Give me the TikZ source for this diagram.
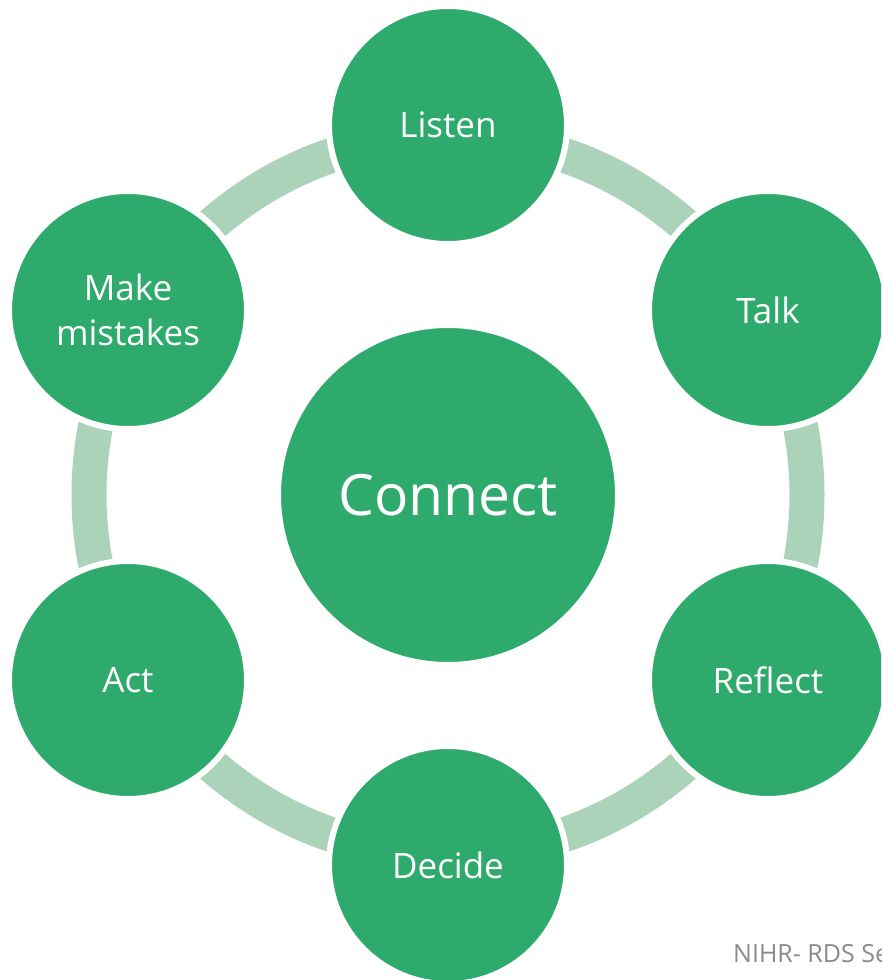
\documentclass[tikz,border=0pt]{standalone}
\usepackage{fontspec}
\setmainfont{Open Sans}
\definecolor{cgreen}{HTML}{2EAB6C}
\definecolor{cring}{HTML}{ABD3BA}
\definecolor{cgray}{HTML}{8A8A8A}
\begin{document}
\begin{tikzpicture}[x=1pt,y=-1pt,
  smallc/.style={circle,fill=cgreen,draw=white,line width=6pt,minimum size=238pt,inner sep=0pt,text=white,align=center,font=\fontsize{35}{45}\selectfont},
  bigc/.style={circle,fill=cgreen,draw=white,line width=2pt,minimum size=336pt,inner sep=0pt,text=white,font=\fontsize{57}{60}\selectfont},
  ringstyle/.style={draw=cring,line width=35pt}]
\useasboundingbox (0,0) rectangle (881,980);
\clip (0,0) rectangle (881,980);
\coordinate (c) at (448,495);
\draw[ringstyle] (c) circle[radius=359pt];
\node[smallc] (listen) at (448,125) {Listen};
\node[smallc] (talk) at (768,310) {Talk};
\node[smallc] (reflect) at (768,680) {Reflect};
\node[smallc] (decide) at (448,865) {Decide};
\node[smallc] (act) at (128,680) {Act};
\node[smallc] (make) at (128,310) {Make\\mistakes};
\node[bigc] (connect) at (c) {Connect};
\node[anchor=base west,text=cgray,inner sep=0pt,font=\fontsize{25}{27}\selectfont] (foot) at (733,962) {NIHR- RDS Se};
\end{tikzpicture}
\end{document}
